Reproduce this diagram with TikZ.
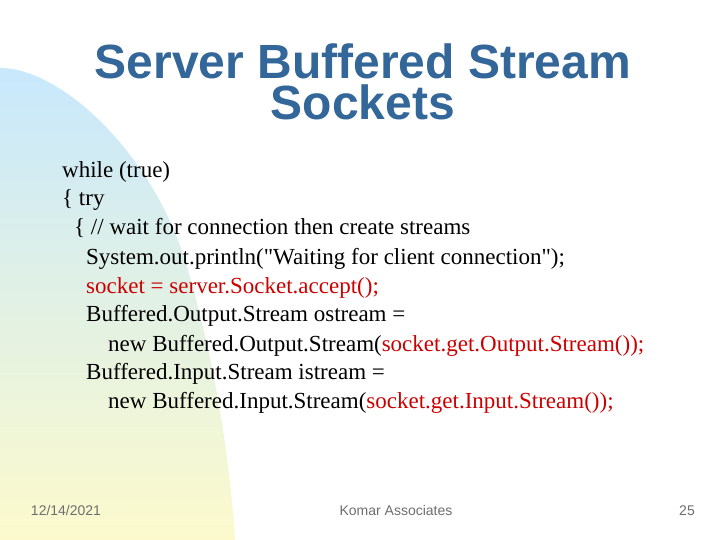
\documentclass[tikz,border=0pt]{standalone}
\usepackage{fontspec}
\setmainfont{Liberation Serif}
\setsansfont{Liberation Sans}
\definecolor{titleblue}{RGB}{51,102,153}
\definecolor{codered}{RGB}{204,0,0}
\definecolor{footgray}{RGB}{110,110,110}
\begin{document}
\begin{tikzpicture}[x=1pt,y=-1pt,
  code/.style={anchor=base west,inner sep=0pt,font=\fontsize{23}{25}\selectfont},
  foot/.style={anchor=base,inner sep=0pt,font=\sffamily\fontsize{14}{16}\selectfont,text=footgray}]
\useasboundingbox (0,0) rectangle (720,540);
\fill[white] (0,0) rectangle (720,540);
\shade[top color={rgb,255:red,200;green,232;blue,252},bottom color={rgb,255:red,252;green,250;blue,205}]
  (0,68) .. controls (60,68) and (150,150) .. (185,260)
  .. controls (215,360) and (230,460) .. (235,540) -- (0,540) -- cycle;
\node[font=\sffamily\bfseries\fontsize{48}{41}\selectfont,text=titleblue,align=center] (t) at (363,82) {Server Buffered Stream\\Sockets};
\node[code] (l1) at (62,178) {while (true)};
\node[code] (l2) at (62,206) {\{ try};
\node[code] (l3) at (74,235) {\{ // wait for connection then create streams};
\node[code] (l4) at (86,264) {System.out.println(\textquotedbl Waiting for client connection\textquotedbl);};
\node[code,text=codered] (l5) at (86,293) {socket = server.Socket.accept();};
\node[code] (l6) at (86,321) {Buffered.Output.Stream ostream =};
\node[code] (l7) at (108,351) {new Buffered.Output.Stream(\textcolor{codered}{socket.get.Output.Stream());}};
\node[code] (l8) at (86,379) {Buffered.Input.Stream istream =};
\node[code] (l9) at (108,408) {new Buffered.Input.Stream(\textcolor{codered}{socket.get.Input.Stream());}};
\node[foot] (f1) at (66,515) {12/14/2021};
\node[foot] (f2) at (396,515) {Komar Associates};
\node[foot] (f3) at (687,515) {25};
\end{tikzpicture}
\end{document}
